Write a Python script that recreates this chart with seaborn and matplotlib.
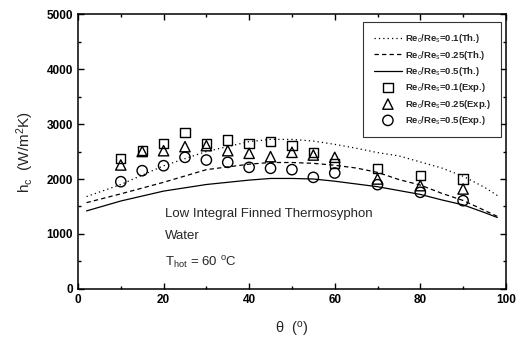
import matplotlib
matplotlib.use("Agg")
import matplotlib.pyplot as plt
import seaborn as sns
import pandas as pd
from matplotlib.ticker import MultipleLocator

sns.set_theme(style="ticks")
plt.rcParams['font.family'] = ['Liberation Sans', 'DejaVu Sans']
plt.rcParams['mathtext.fontset'] = 'custom'
plt.rcParams['mathtext.rm'] = 'Liberation Sans'
plt.rcParams['mathtext.it'] = 'Liberation Sans'
plt.rcParams['mathtext.bf'] = 'Liberation Sans:bold'

# Theoretical curves
theta_th = [2, 10, 20, 30, 40, 45, 50, 55, 60, 65, 70, 75, 80, 85, 90, 95, 98]
h_th_01 = [1680, 1900, 2240, 2500, 2680, 2720, 2720, 2690, 2630, 2560, 2480, 2420, 2310, 2200, 2050, 1850, 1700]
h_th_025 = [1570, 1730, 1940, 2170, 2270, 2300, 2300, 2285, 2250, 2200, 2120, 1990, 1890, 1740, 1610, 1430, 1320]
h_th_05 = [1420, 1600, 1780, 1900, 1980, 2010, 2010, 2000, 1960, 1910, 1860, 1790, 1720, 1620, 1530, 1390, 1300]

# Experimental points
theta_exp = [10, 15, 20, 25, 30, 35, 40, 45, 50, 55, 60, 70, 80, 90]
h_exp_01 = [2376, 2515, 2649, 2848, 2649, 2709, 2649, 2679, 2606, 2485, 2285, 2194, 2061, 2000]
h_exp_025 = [2255, 2500, 2515, 2588, 2606, 2515, 2467, 2406, 2485, 2436, 2394, 2000, 1879, 1818]
h_exp_05 = [1951, 2151, 2242, 2394, 2345, 2303, 2212, 2194, 2170, 2030, 2109, 1897, 1758, 1606]

labels_th = [r"Re$_c$/Re$_s$=0.1(Th.)", r"Re$_c$/Re$_s$=0.25(Th.)", r"Re$_c$/Re$_s$=0.5(Th.)"]
labels_exp = [r"Re$_c$/Re$_s$=0.1(Exp.)", r"Re$_c$/Re$_s$=0.25(Exp.)", r"Re$_c$/Re$_s$=0.5(Exp.)"]

fig = plt.figure(figsize=(5.18, 3.42), dpi=100)
ax = fig.add_axes([0.1506, 0.155, 0.826, 0.804])

styles = [(0, (1, 2.5)), (0, (3.5, 2.5)), '-']
for h, lab, ls in zip([h_th_01, h_th_025, h_th_05], labels_th, styles):
    df = pd.DataFrame({"theta": theta_th, "h": h})
    sns.lineplot(data=df, x="theta", y="h", ax=ax, color="black", lw=0.9,
                 linestyle=ls, label=lab)

markers = ['s', '^', 'o']
sizes = [45, 55, 55]
for h, lab, m, s in zip([h_exp_01, h_exp_025, h_exp_05], labels_exp, markers, sizes):
    df = pd.DataFrame({"theta": theta_exp, "h": h})
    sns.scatterplot(data=df, x="theta", y="h", ax=ax, marker=m, s=s,
                    facecolor="none", edgecolor="black", linewidth=1.0, label=lab)

ax.set_xlim(0, 100)
ax.set_ylim(0, 5000)
ax.xaxis.set_major_locator(MultipleLocator(20))
ax.xaxis.set_minor_locator(MultipleLocator(10))
ax.yaxis.set_major_locator(MultipleLocator(1000))
ax.yaxis.set_minor_locator(MultipleLocator(500))
ax.tick_params(which='both', direction='in', top=True, right=True, colors='black',
               labelsize=8.5, width=1.0)
ax.tick_params(which='major', length=4)
ax.tick_params(which='minor', length=2)
for lbl in ax.get_xticklabels() + ax.get_yticklabels():
    lbl.set_fontweight('bold')
for sp in ax.spines.values():
    sp.set_color('black')
    sp.set_linewidth(1.1)

ax.set_xlabel(r"θ  ($^{\rm o}$)", fontsize=10.5, labelpad=10)
ax.set_ylabel(r"h$_c$  (W/m$^2$K)", fontsize=11, labelpad=8)

ax.text(20.3, 1370, "Low Integral Finned Thermosyphon", fontsize=9.5, va='center')
ax.text(20.3, 960, "Water", fontsize=9.5, va='center')
ax.text(20.3, 480, r"T$_{hot}$ = 60 $^{\rm o}$C", fontsize=9.5, va='center')

leg = ax.legend(loc='upper right', bbox_to_anchor=(0.994, 0.978),
                prop={'size': 6.8, 'weight': 'bold'},
                frameon=True, fancybox=False, edgecolor='black', handlelength=3.0,
                labelspacing=0.35, borderpad=1.1, handletextpad=0.3, borderaxespad=0.2)
leg.get_frame().set_linewidth(0.8)

fig.savefig("out.png", dpi=100)
